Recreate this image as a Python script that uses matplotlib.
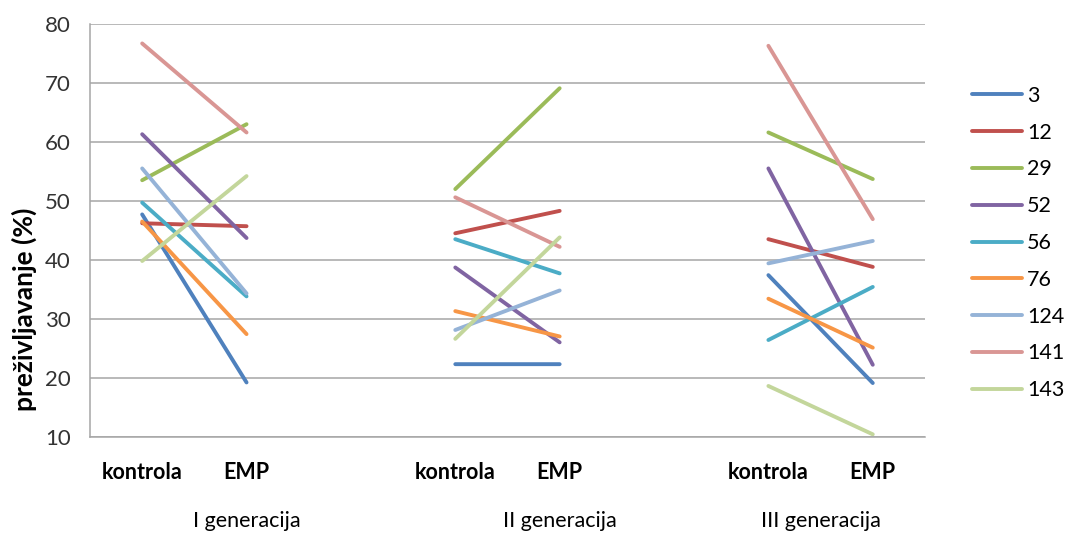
import numpy as np
import matplotlib
matplotlib.use("Agg")
import matplotlib.pyplot as plt

plt.rcParams['font.family'] = ['Lato', 'DejaVu Sans']

# lines (strains) and their values per category
series = ['3', '12', '29', '52', '56', '76', '124', '141', '143']
colors = ['#4F81BD', '#C0504D', '#9BBB59', '#8064A2', '#4BACC6',
          '#F79646', '#95B3D7', '#D99694', '#C3D69B']

kontrola_I = [47.7, 46.2, 53.5, 61.3, 49.7, 46.5, 55.5, 76.7, 39.8]
emp_I = [19.2, 45.7, 63.0, 43.7, 33.8, 27.4, 34.3, 61.6, 54.2]
kontrola_II = [22.3, 44.5, 52.0, 38.7, 43.5, 31.3, 28.1, 50.6, 26.6]
emp_II = [22.3, 48.3, 69.1, 26.0, 37.7, 27.0, 34.8, 42.2, 43.8]
kontrola_III = [37.4, 43.5, 61.6, 55.5, 26.4, 33.4, 39.4, 76.3, 18.6]
emp_III = [19.1, 38.8, 53.7, 22.2, 35.4, 25.1, 43.2, 46.9, 10.4]

categories = ['kontrola', 'EMP', '', 'kontrola', 'EMP', '', 'kontrola', 'EMP']
groups = ['I generacija', 'II generacija', 'III generacija']
group_pos = [1.0, 4.0, 6.5]

# columns in slot order, empty slots break the lines
nan = [np.nan] * len(series)
table = np.array([kontrola_I, emp_I, nan, kontrola_II, emp_II, nan,
                  kontrola_III, emp_III]).T

fig = plt.figure(figsize=(10.65, 5.33), dpi=100)
ax = fig.add_axes([0.0845, 0.1807, 0.784, 0.7743])

x = np.arange(len(categories))
for name, vals, c in zip(series, table, colors):
    ax.plot(x, vals, color=c, lw=2.8, solid_capstyle='round', label=name)

ax.set_xlim(-0.5, len(categories) - 0.5)
ax.set_ylim(10, 80)
ax.set_yticks(range(10, 81, 10))
ax.yaxis.grid(True, color='#A6A6A6', lw=1.1)
ax.set_axisbelow(True)
for s in ['top', 'right']:
    ax.spines[s].set_visible(False)
for s in ['left', 'bottom']:
    ax.spines[s].set_color('#A6A6A6')
    ax.spines[s].set_linewidth(1.1)

tick_idx = [i for i, c in enumerate(categories) if c]
ax.set_xticks(tick_idx)
ax.set_xticklabels([categories[i] for i in tick_idx], fontsize=15.5,
                   fontweight='bold')
ax.tick_params(axis='x', length=0, pad=18)
ax.tick_params(axis='y', length=0, pad=14, labelsize=16, labelcolor='#333333')

for g, p in zip(groups, group_pos):
    ax.text(p, -0.205, g, transform=ax.get_xaxis_transform(), ha='center',
            va='center', fontsize=15.5)

fig.text(24 / 1065, 1 - 309 / 533, 'preživljavanje (%)', rotation=90,
         ha='center', va='center', fontsize=19, fontweight='bold')

ax.legend(loc='center left', bbox_to_anchor=(0.9127, 0.544),
          bbox_transform=fig.transFigure, frameon=False, fontsize=15.5,
          handlelength=2.3, handletextpad=0.25, labelspacing=0.78,
          borderpad=0, borderaxespad=0)

fig.savefig('out.png', dpi=100)
